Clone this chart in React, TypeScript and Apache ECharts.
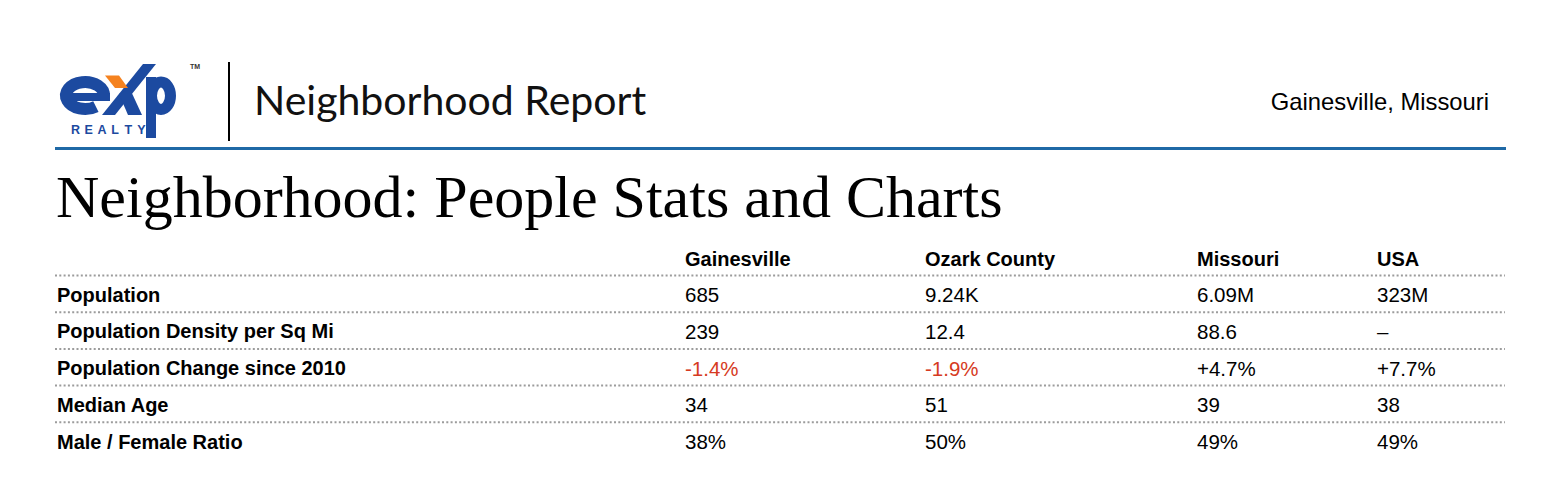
import React, { useEffect, useRef } from "react";
import * as echarts from "echarts";

const columnHeaders = ["Gainesville", "Ozark County", "Missouri", "USA"];
const rowLabels = [
  "Population",
  "Population Density per Sq Mi",
  "Population Change since 2010",
  "Median Age",
  "Male / Female Ratio",
];
const gainesvilleValues = ["685", "239", "-1.4%", "34", "38%"];
const ozarkCountyValues = ["9.24K", "12.4", "-1.9%", "51", "50%"];
const missouriValues = ["6.09M", "88.6", "+4.7%", "39", "49%"];
const usaValues = ["323M", "–", "+7.7%", "38", "49%"];

const reportTitle = "Neighborhood Report";
const locationName = "Gainesville, Missouri";
const sectionTitle = "Neighborhood: People Stats and Charts";
const realtyLetters = ["R", "E", "A", "L", "T", "Y"];

const BLUE = "#1c4aa0";
const ORANGE = "#f5821f";

let registered = false;
function registerShapes() {
  if (registered) return;
  registered = true;
  echarts.graphic.registerShape(
    "expE",
    echarts.graphic.extendPath(
      "M 104 96.5 A 19 13.5 0 1 0 95.9 106.6",
      {}
    )
  );
}

export default function App() {
  const ref = useRef<HTMLDivElement>(null);

  useEffect(() => {
    document.body.style.margin = "0";
    registerShapes();
    const chart = echarts.init(ref.current!, undefined, { renderer: "svg" });

    const colX = [685, 925, 1197, 1377];
    const labelX = 57;
    const headerY = 259;
    const rowY0 = 294.5;
    const rowStep = 36.8;
    const lineY0 = 275.5;

    const elements: any[] = [];

    // Logo
    elements.push({
      type: "expE",
      style: { fill: "none", stroke: BLUE, lineWidth: 12, lineCap: "butt" },
    });
    elements.push({
      type: "rect",
      shape: { x: 66, y: 93, width: 44, height: 8 },
      style: { fill: BLUE },
    });
    elements.push({
      type: "polygon",
      shape: { points: [[143, 64], [156, 64], [115, 115], [102, 115]] },
      style: { fill: BLUE },
    });
    elements.push({
      type: "polygon",
      shape: { points: [[105, 75.5], [119, 75.5], [128, 88], [115, 88]] },
      style: { fill: ORANGE },
    });
    elements.push({
      type: "polygon",
      shape: { points: [[119, 94], [130, 89], [142, 115], [128, 115]] },
      style: { fill: BLUE },
    });
    elements.push({
      type: "rect",
      shape: { x: 146, y: 77, width: 10, height: 61 },
      style: { fill: BLUE },
    });
    elements.push({
      type: "ellipse",
      shape: { cx: 161, cy: 95.75, rx: 9.5, ry: 13.75 },
      style: { fill: "none", stroke: BLUE, lineWidth: 11 },
    });
    elements.push({
      type: "text",
      x: 190,
      y: 63,
      style: { text: "TM", fontSize: 7, fontWeight: "bold", fill: "#333", fontFamily: "Liberation Sans" },
    });
    realtyLetters.forEach((ch, i) => {
      elements.push({
        type: "text",
        x: 75.5 + i * 13.2,
        y: 129.5,
        style: {
          text: ch,
          fontSize: 12.5,
          fontWeight: "bold",
          fill: BLUE,
          fontFamily: "Liberation Sans",
          align: "center",
          verticalAlign: "middle",
        },
      });
    });

    // Divider
    elements.push({
      type: "line",
      shape: { x1: 229, y1: 62, x2: 229, y2: 141 },
      style: { stroke: "#000", lineWidth: 2 },
    });

    elements.push({
      type: "text",
      x: 254,
      y: 99,
      style: {
        text: reportTitle,
        fontSize: 41,
        fontFamily: "Lato",
        fill: "#111",
        verticalAlign: "middle",
      },
    });
    elements.push({
      type: "text",
      x: 1489,
      y: 101,
      style: {
        text: locationName,
        fontSize: 23.8,
        fontFamily: "Liberation Sans",
        fill: "#000",
        align: "right",
        verticalAlign: "middle",
      },
    });

    // Blue rule
    elements.push({
      type: "rect",
      shape: { x: 55, y: 147, width: 1451, height: 3 },
      style: { fill: "#1f69a6" },
    });

    elements.push({
      type: "text",
      x: 56,
      y: 197,
      style: {
        text: sectionTitle,
        fontSize: 60,
        fontFamily: "Liberation Serif",
        fill: "#000",
        verticalAlign: "middle",
      },
    });

    // Column headers
    columnHeaders.forEach((h, i) => {
      elements.push({
        type: "text",
        x: colX[i],
        y: headerY,
        style: {
          text: h,
          fontSize: 20,
          fontWeight: "bold",
          fontFamily: "Liberation Sans",
          fill: "#000",
          verticalAlign: "middle",
        },
      });
    });

    // Dotted lines
    rowLabels.forEach((_, i) => {
      const y = lineY0 + i * 36.7;
      elements.push({
        type: "line",
        shape: { x1: 55, y1: y, x2: 1505, y2: y },
        style: { stroke: "#9c9c9c", lineWidth: 2, lineDash: [2, 2.3] },
      });
    });

    const valueCols = [gainesvilleValues, ozarkCountyValues, missouriValues, usaValues];
    rowLabels.forEach((label, r) => {
      const y = rowY0 + r * rowStep;
      elements.push({
        type: "text",
        x: labelX,
        y,
        style: {
          text: label,
          fontSize: 20,
          fontWeight: "bold",
          fontFamily: "Liberation Sans",
          fill: "#000",
          verticalAlign: "middle",
        },
      });
      valueCols.forEach((vals, c) => {
        const v = vals[r];
        elements.push({
          type: "text",
          x: colX[c],
          y,
          style: {
            text: v,
            fontSize: 20.5,
            fontFamily: "Liberation Sans",
            fill: v.startsWith("-") ? "#d63a22" : "#000",
            verticalAlign: "middle",
          },
        });
      });
    });

    chart.setOption({
      animation: false,
      backgroundColor: "#fff",
      graphic: { elements },
    });

    return () => chart.dispose();
  }, []);

  return <div ref={ref} style={{ width: 1567, height: 489 }} />;
}
